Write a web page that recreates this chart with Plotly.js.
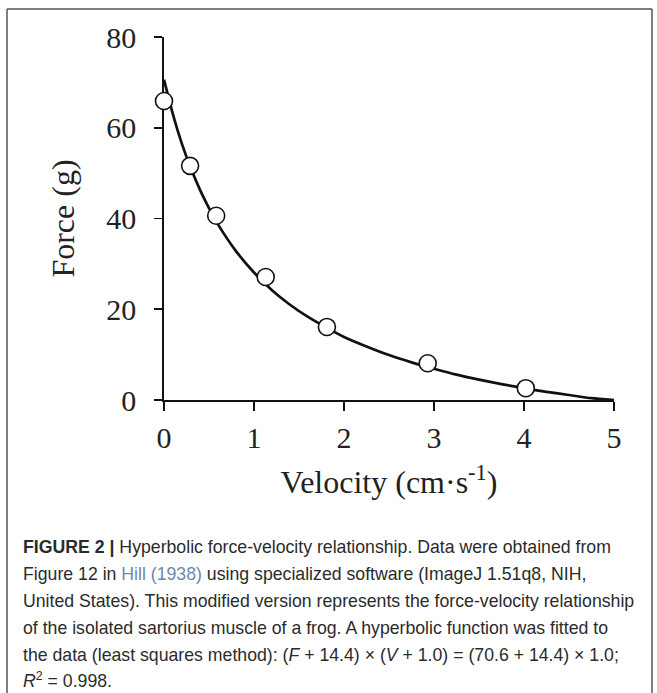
<!DOCTYPE html>
<html>
<head>
<meta charset="utf-8">
<script src="https://cdn.plot.ly/plotly-3.0.1.min.js"></script>
<style>
  html, body { margin: 0; padding: 0; background: #fff; }
  #chart { width: 657px; height: 693px; }
</style>
</head>
<body>
<div id="chart"></div>
<script>
// Measured data points (open circles)
const velocity = [0, 0.29, 0.58, 1.13, 1.81, 2.93, 4.02];
const force = [65.9, 51.6, 40.6, 27.1, 16.1, 8.1, 2.6];

// Fitted hyperbola, values
const curveVelocity = [0, 0.1, 0.2, 0.3, 0.4, 0.5, 0.6, 0.8, 1.0, 1.2, 1.4, 1.6, 1.8, 2.0, 2.25, 2.5, 2.75, 3.0, 3.25, 3.5, 3.75, 4.0, 4.25, 4.5, 4.75, 5.0];
const curveForce = [70.6, 62.9, 56.4, 51.0, 46.3, 42.3, 38.7, 32.8, 28.1, 24.2, 21.0, 18.3, 16.0, 13.9, 11.8, 9.9, 8.3, 6.9, 5.6, 4.5, 3.5, 2.6, 1.8, 1.1, 0.4, 0.0];

// Axis ticks
const xTicks = [0, 1, 2, 3, 4, 5];
const yTicks = [0, 20, 40, 60, 80];

// Caption lines
const captionLines = [
  "<b>FIGURE 2 |</b> Hyperbolic force-velocity relationship. Data were obtained from",
  "Figure 12 in <span style='color:#6f88a8'>Hill (1938)</span> using specialized software (ImageJ 1.51q8, NIH,",
  "United States). This modified version represents the force-velocity relationship",
  "of the isolated sartorius muscle of a frog. A hyperbolic function was fitted to",
  "the data (least squares method): (<i>F</i> + 14.4) × (<i>V</i> + 1.0) = (70.6 + 14.4) × 1.0;",
  "<i>R</i><sup>2</sup> = 0.998."
];

// Layout geometry (pixels)
const W = 657, H = 693;
const M = { l: 164, r: 43, t: 37, b: 293 };
const PW = W - M.l - M.r, PH = H - M.t - M.b;
const px = x => (x - M.l) / PW;
const py = y => (H - M.b - y) / PH;

const captionY = [547, 574, 601, 628, 655, 680];

const annotations = captionLines.map((t, i) => ({
  text: t, xref: 'paper', yref: 'paper',
  x: px(21), y: py(captionY[i]), xanchor: 'left', yanchor: 'middle',
  showarrow: false, align: 'left',
  font: { family: '"Liberation Sans Narrow", "Liberation Sans", Arial, sans-serif', size: 17.7, color: '#2b2b2b' }
}));

const traces = [
  {
    x: curveVelocity, y: curveForce, type: 'scatter', mode: 'lines',
    line: { color: '#111', width: 2.7, shape: 'spline', smoothing: 0.6 },
    cliponaxis: false, hoverinfo: 'skip', showlegend: false
  },
  {
    x: velocity, y: force, type: 'scatter', mode: 'markers',
    marker: { symbol: 'circle', size: 17, color: '#fff', line: { color: '#111', width: 1.6 } },
    cliponaxis: false, showlegend: false
  }
];

const serif = '"Liberation Serif", "Times New Roman", Times, serif';

const layout = {
  width: W, height: H,
  margin: M,
  paper_bgcolor: '#fff', plot_bgcolor: '#fff',
  showlegend: false,
  font: { family: serif, color: '#222' },
  xaxis: {
    range: [0, 5], tickvals: xTicks, ticktext: xTicks.map(String),
    showgrid: false, zeroline: false, showline: true, linecolor: '#111', linewidth: 1.8,
    ticks: 'outside', ticklen: 9, tickwidth: 1.6, tickcolor: '#111',
    tickfont: { family: serif, size: 30, color: '#222' },
    ticklabelstandoff: 1,
    layer: 'below traces',
    title: { text: 'Velocity (cm·s<sup>-1</sup>)', font: { family: serif, size: 32, color: '#222' }, standoff: 18 },
    fixedrange: true
  },
  yaxis: {
    range: [0, 80], tickvals: yTicks, ticktext: yTicks.map(String),
    showgrid: false, zeroline: false, showline: true, linecolor: '#111', linewidth: 1.8,
    ticks: 'outside', ticklen: 8, tickwidth: 1.6, tickcolor: '#111',
    tickfont: { family: serif, size: 30, color: '#222' },
    ticklabelstandoff: 12,
    layer: 'below traces',
    title: { text: 'Force (g)', font: { family: serif, size: 32, color: '#222' }, standoff: 22 },
    fixedrange: true
  },
  annotations: annotations,
  shapes: [
    { type: 'line', xref: 'paper', yref: 'paper', x0: px(7), x1: px(652), y0: py(9), y1: py(9), line: { color: '#555', width: 1.5 } },
    { type: 'line', xref: 'paper', yref: 'paper', x0: px(7), x1: px(7), y0: py(9), y1: py(700), line: { color: '#555', width: 1.5 } },
    { type: 'line', xref: 'paper', yref: 'paper', x0: px(652), x1: px(652), y0: py(9), y1: py(700), line: { color: '#555', width: 1.5 } }
  ]
};

Plotly.newPlot('chart', traces, layout, { displayModeBar: false, staticPlot: true });
</script>
</body>
</html>
